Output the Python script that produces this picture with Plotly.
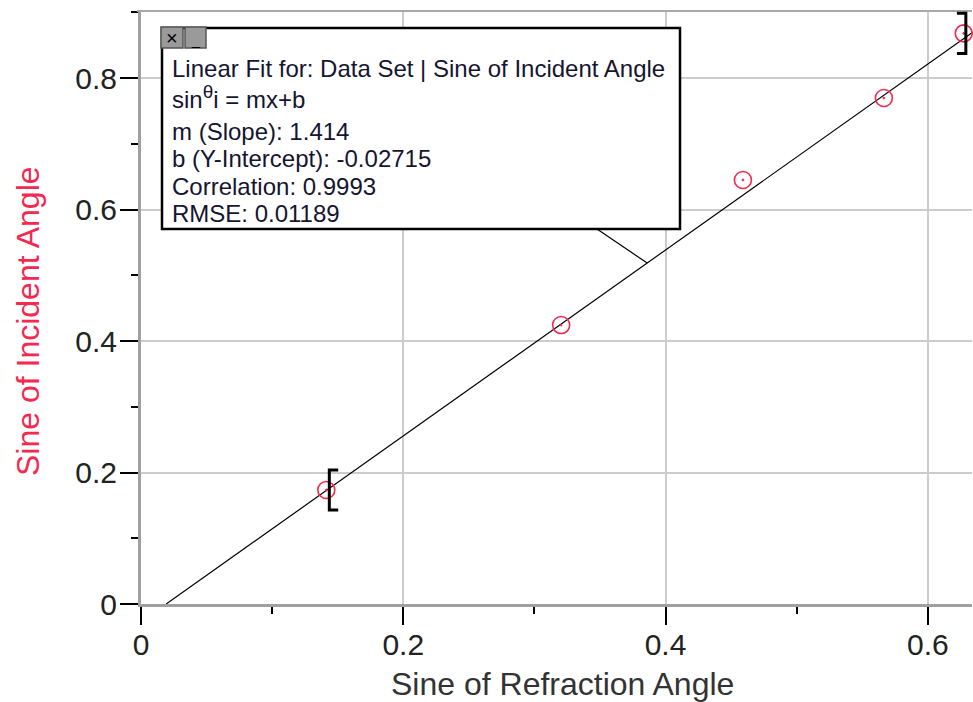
import plotly.graph_objects as go

# ---- data ----
sin_refraction = [0.1413, 0.3204, 0.4590, 0.5665, 0.6274]
sin_incident = [0.1734, 0.4243, 0.6450, 0.7696, 0.8680]
slope = 1.414
intercept = -0.02715
fit_lines = [
    "Linear Fit for: Data Set | Sine of Incident Angle",
    "sin<sup><span style='font-size:19px'>θ</span></sup>i = mx+b",
    "m (Slope): 1.414",
    "b (Y-Intercept): -0.02715",
    "Correlation: 0.9993",
    "RMSE: 0.01189",
]
x_title = "Sine of Refraction Angle"
y_title = "Sine of Incident Angle"
x_ticks = [0, 0.2, 0.4, 0.6]
y_ticks = [0, 0.2, 0.4, 0.6, 0.8]
x_range = [0, 0.6337]
y_range = [0, 0.902]

W, H = 973, 702
L_abs, T_abs, R_abs, B_abs = 141, 11, 972, 604
L, T, R, B = L_abs, T_abs, W - R_abs, H - B_abs
PW, PH = R_abs - L_abs, B_abs - T_abs

def px(p):  # pixel x -> paper
    return (p - L_abs) / PW

def py(p):  # pixel y -> paper
    return (B_abs - p) / PH

FONT = "Liberation Sans, Arial, sans-serif"
RED = "#f5284f"

fig = go.Figure()

# fit line
x_start = -intercept / slope
x_end = x_range[1]
fig.add_trace(go.Scatter(
    x=[x_start, x_end], y=[slope * x_start + intercept, slope * x_end + intercept],
    mode="lines", line=dict(color="black", width=1.2), hoverinfo="skip", showlegend=False))

# data points
fig.add_trace(go.Scatter(
    x=sin_refraction, y=sin_incident, mode="markers",
    marker=dict(symbol="circle-open-dot", size=17, color=RED, line=dict(width=1.6, color=RED)),
    showlegend=False, cliponaxis=False))

shapes = []
# top border
shapes.append(dict(type="line", xref="paper", yref="paper", x0=-0.005, x1=1, y0=1, y1=1,
                   line=dict(color="#a8a8a8", width=2)))

# fit range brackets
hh = 0.0305
sl = 0.0068
xl = sin_refraction[0] + 0.0023
yl = sin_incident[0]
shapes.append(dict(type="path", xref="x", yref="y",
                   path=f"M {xl+sl},{yl+hh} L {xl},{yl+hh} L {xl},{yl-hh} L {xl+sl},{yl-hh}",
                   line=dict(color="black", width=3)))
xr = sin_refraction[-1] + 0.0016
yr = sin_incident[-1]
shapes.append(dict(type="path", xref="x", yref="y",
                   path=f"M {xr-sl},{yr+hh} L {xr},{yr+hh} L {xr},{yr-hh} L {xr-sl},{yr-hh}",
                   line=dict(color="black", width=3)))

# connector from box to the fit line
xc = 0.386
shapes.append(dict(type="line", xref="paper", yref="paper", x0=px(597), y0=py(229),
                   x1=xc / x_range[1], y1=(slope * xc + intercept) / y_range[1],
                   line=dict(color="black", width=1.2)))

# box
shapes.append(dict(type="rect", xref="paper", yref="paper", x0=px(162), x1=px(680),
                   y0=py(229), y1=py(28), fillcolor="white", line=dict(color="black", width=2.5)))
# buttons
for bx0, bx1 in [(161, 183), (185, 206)]:
    shapes.append(dict(type="rect", xref="paper", yref="paper", x0=px(bx0), x1=px(bx1),
                       y0=py(48), y1=py(27), fillcolor="#9a9a9a", line=dict(color="#555555", width=1.5)))

annotations = []
ys = [69, 97, 131, 159, 186, 213]
for txt, yy in zip(fit_lines, ys):
    annotations.append(dict(xref="paper", yref="paper", x=px(170), y=py(yy), text=txt,
                            showarrow=False, xanchor="left", yanchor="middle",
                            font=dict(family=FONT, size=24, color="#151530")))
annotations.append(dict(xref="paper", yref="paper", x=px(172), y=py(38), text="×", showarrow=False,
                        xanchor="center", yanchor="middle", font=dict(family=FONT, size=20, color="black")))
annotations.append(dict(xref="paper", yref="paper", x=px(195.5), y=py(40), text="_", showarrow=False,
                        xanchor="center", yanchor="middle", font=dict(family=FONT, size=14, color="black")))
# axis titles
annotations.append(dict(xref="paper", yref="paper", x=px(562), y=py(684), text=x_title, showarrow=False,
                        xanchor="center", yanchor="middle", font=dict(family=FONT, size=32, color="#333333")))
annotations.append(dict(xref="paper", yref="paper", x=px(28), y=py(321), text=y_title, showarrow=False,
                        textangle=-90, xanchor="center", yanchor="middle",
                        font=dict(family=FONT, size=32, color=RED)))

fig.update_layout(
    width=W, height=H, margin=dict(l=L, r=R, t=T, b=B, autoexpand=False),
    paper_bgcolor="white", plot_bgcolor="white",
    shapes=shapes, annotations=annotations,
    font=dict(family=FONT),
)
fig.update_xaxes(
    range=x_range, tickvals=x_ticks, ticktext=["0", "0.2", "0.4", "0.6"], automargin=False,
    showgrid=True, gridcolor="#cccccc", gridwidth=1.5, zeroline=False,
    showline=True, linecolor="#a0a0a0", linewidth=3,
    ticks="outside", ticklen=18, tickwidth=2, tickcolor="black", ticklabelstandoff=-6,
    minor=dict(dtick=0.1, tick0=0, ticks="outside", ticklen=7, tickwidth=2, tickcolor="black", showgrid=False),
    tickfont=dict(family=FONT, size=30, color="#222222"),
)
fig.update_yaxes(
    range=y_range, tickvals=y_ticks, ticktext=["0", "0.2", "0.4", "0.6", "0.8"], automargin=False,
    showgrid=True, gridcolor="#cccccc", gridwidth=1.5, zeroline=False,
    showline=True, linecolor="#a0a0a0", linewidth=3,
    ticks="outside", ticklen=18, tickwidth=2, tickcolor="black", ticklabelstandoff=-3,
    minor=dict(dtick=0.1, tick0=0, ticks="outside", ticklen=7, tickwidth=2, tickcolor="black", showgrid=False),
    tickfont=dict(family=FONT, size=30, color="#222222"),
)

fig.write_html("out.html", config={"displayModeBar": False},
               post_script="document.body.style.margin='0';document.body.style.overflow='hidden';")
